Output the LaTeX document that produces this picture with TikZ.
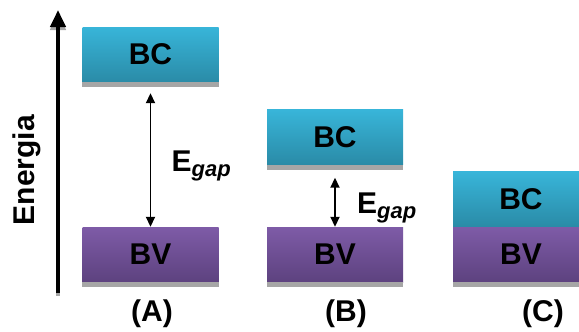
\documentclass[tikz,border=0pt]{standalone}
\usepackage{fontspec}
\setmainfont{Liberation Sans}
\usetikzlibrary{arrows.meta,calc,positioning}

\definecolor{bctop}{HTML}{38B5D9}
\definecolor{bcbot}{HTML}{2A8BA7}
\definecolor{bvtop}{HTML}{7E5BA7}
\definecolor{bvbot}{HTML}{5D427F}
\definecolor{shadowgray}{HTML}{A6A6A6}

\begin{document}
\begin{tikzpicture}[
  x=1pt, y=-1pt,
  font=\bfseries\fontsize{30}{30}\selectfont,
  axis/.style={line width=4pt, -{Triangle[length=17pt,width=15pt]}},
  band/.style={minimum width=136pt, minimum height=55pt, inner sep=0pt, draw=none},
  cband/.style={band, top color=bctop, bottom color=bcbot},
  vband/.style={band, top color=bvtop, bottom color=bvbot},
  bandshadow/.style={fill=shadowgray, draw=none},
  gaparrow/.style={line width=1.8pt, {Triangle[length=10pt,width=9pt]}-{Triangle[length=10pt,width=9pt]}},
  gaplabel/.style={anchor=base west, inner sep=0pt},
  panellabel/.style={inner sep=0pt}
]

% frame of the picture
\useasboundingbox (0,0) rectangle (579,332);
\clip (0,0) rectangle (579,332);

% ---------- energy axis ----------
\coordinate (axbot) at (58,293);
\coordinate (axtop) at (58,10);
\draw[axis, shadowgray] ([yshift=-3pt]axbot) -- ([yshift=-3pt]axtop);
\draw[axis] (axbot) -- (axtop);
\node[rotate=90] (energia) at (27,170) {Energia};

% =========================================================
% (A) isolante
% =========================================================
\node[cband] (BCa) at (150.5,54.5) {BC};
\node[vband] (BVa) at (150.5,254.5) {BV};
\path[bandshadow] (BCa.south west) rectangle ([yshift=-5pt]BCa.south east);
\path[bandshadow] (BVa.south west) rectangle ([yshift=-5pt]BVa.south east);

\draw[gaparrow] ([yshift=-11pt]BCa.south) -- (BVa.north) coordinate[midway] (midA);
\node[gaplabel] (EgapA) at ([xshift=21pt,yshift=-11pt]midA)
  {E\raisebox{-5pt}{\fontsize{22}{22}\selectfont\itshape gap}};

\node[panellabel] (labA) at (152,314) {(A)};

% =========================================================
% (B) semicondutor
% =========================================================
\node[cband] (BCb) at (335,137) {BC};
\node[vband] (BVb) at (335,254.5) {BV};
\path[bandshadow] (BCb.south west) rectangle ([yshift=-5pt]BCb.south east);
\path[bandshadow] (BVb.south west) rectangle ([yshift=-5pt]BVb.south east);

\draw[gaparrow] ([yshift=-13pt]BCb.south) -- (BVb.north) coordinate[midway] (midB);
\node[gaplabel] (EgapB) at ([xshift=22pt,yshift=-11pt]midB)
  {E\raisebox{-5pt}{\fontsize{22}{22}\selectfont\itshape gap}};

\node[panellabel] (labB) at (346,314) {(B)};

% =========================================================
% (C) condutor
% =========================================================
\node[vband] (BVc) at (521,254.5) {BV};
\node[cband, anchor=south] (BCc) at (BVc.north) {BC};
\path[bandshadow] (BVc.south west) rectangle ([yshift=-5pt]BVc.south east);

\node[panellabel] (labC) at (543,314) {(C)};
\end{tikzpicture}
\end{document}
